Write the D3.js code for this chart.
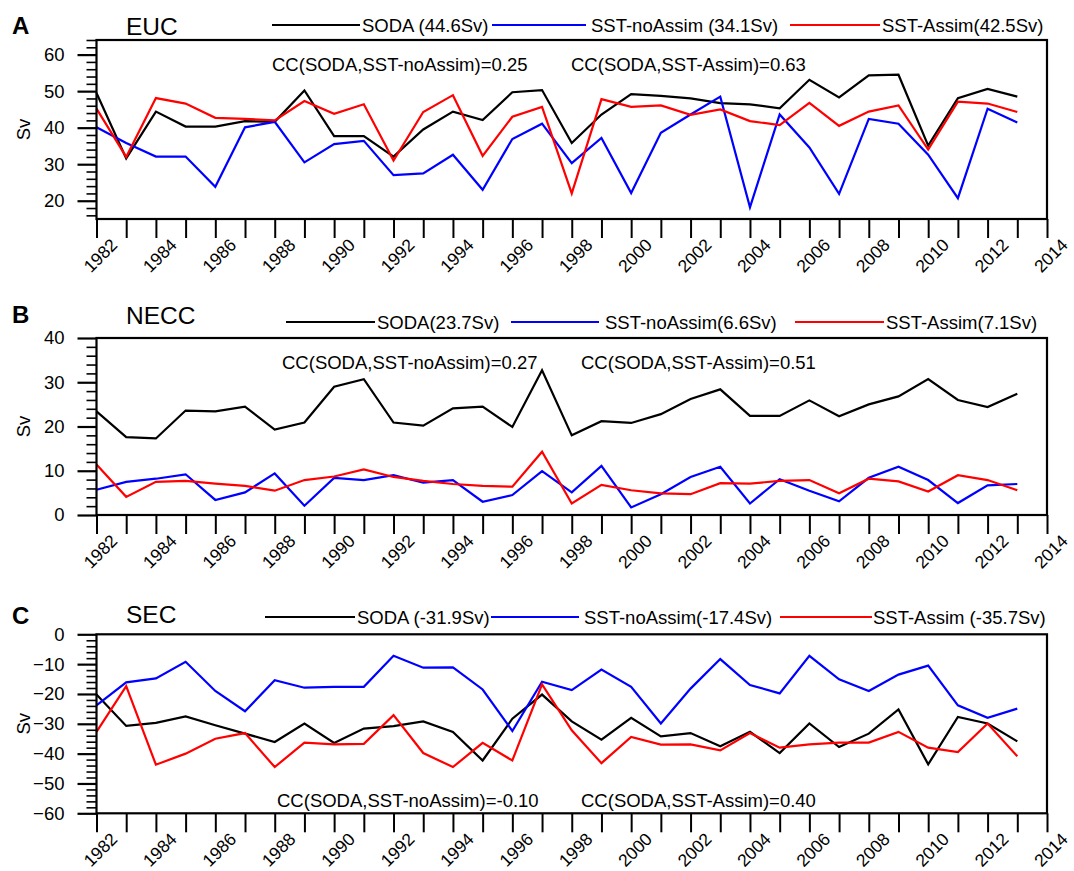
<!DOCTYPE html>
<html><head><meta charset="utf-8">
<script src="https://cdn.jsdelivr.net/npm/d3@7"></script>
<style>body{margin:0;background:#fff} text{font-family:"Liberation Sans",Arial,Helvetica,sans-serif;fill:#000}</style>
</head><body><svg id="c" width="1074" height="871"></svg>
<script>
const years = [1982,1983,1984,1985,1986,1987,1988,1989,1990,1991,1992,1993,1994,1995,1996,1997,
               1998,1999,2000,2001,2002,2003,2004,2005,2006,2007,2008,2009,2010,2011,2012,2013];
const xTickYears = [1982,1983,1984,1985,1986,1987,1988,1989,1990,1991,1992,1993,1994,1995,1996,1997,
                    1998,1999,2000,2001,2002,2003,2004,2005,2006,2007,2008,2009,2010,2011,2012,2013,2014];
const xLabelYears = [1982,1984,1986,1988,1990,1992,1994,1996,1998,2000,2002,2004,2006,2008,2010,2012,2014];

// EUC
const eucSODA = [49.5,31.6,44.4,40.3,40.3,41.8,41.6,50.2,37.7,37.7,32.1,39.5,44.4,42.1,49.7,50.3,
                 35.8,43.6,49.2,48.7,48.0,46.7,46.4,45.3,53.1,48.3,54.3,54.5,35.1,48.1,50.6,48.5];
const eucNoAssim = [40.1,35.8,32.1,32.1,23.8,40.1,41.6,30.5,35.5,36.4,27.0,27.5,32.6,23.0,36.9,41.1,
                    30.3,37.2,22.1,38.6,43.6,48.5,18.2,43.6,34.6,21.9,42.4,41.1,32.6,20.7,45.2,41.4];
const eucAssim = [45.2,32.0,48.1,46.6,42.7,42.4,42.0,47.3,43.8,46.4,31.0,44.3,48.9,32.3,43.0,45.7,
                  22.0,47.8,45.7,46.1,43.5,45.0,41.8,40.7,46.8,40.5,44.4,46.1,34.0,47.1,46.6,44.3];
// NECC
const neccSODA = [23.4,17.6,17.3,23.6,23.4,24.5,19.3,20.9,29.0,30.7,20.9,20.2,24.1,24.5,19.9,32.7,
                  18.0,21.2,20.8,22.8,26.2,28.4,22.4,22.4,25.9,22.3,25.0,26.8,30.7,26.0,24.4,27.4];
const neccNoAssim = [5.7,7.5,8.2,9.2,3.4,5.1,9.4,2.1,8.4,7.9,9.0,7.3,7.9,3.0,4.5,9.9,
                     5.1,11.1,1.7,4.7,8.6,10.9,2.6,8.1,5.5,3.1,8.4,10.9,7.9,2.7,6.7,7.0];
const neccAssim = [11.4,4.1,7.5,7.7,7.1,6.6,5.5,7.9,8.7,10.3,8.6,7.7,7.0,6.6,6.4,14.3,
                   2.6,6.8,5.6,4.9,4.7,7.2,7.1,7.7,7.9,4.9,8.2,7.6,5.3,9.0,7.9,5.6];
// SEC
const secSODA = [-20.2,-30.7,-29.7,-27.5,-30.5,-33.3,-36.1,-29.9,-36.4,-31.6,-30.8,-29.2,-32.7,-42.3,-28.3,-20.2,
                 -29.2,-35.3,-28.0,-34.2,-33.1,-37.5,-32.7,-39.8,-29.9,-37.8,-33.3,-25.2,-43.6,-27.7,-29.9,-35.9];
const secNoAssim = [-23.8,-16.1,-14.8,-9.2,-19.0,-25.8,-15.4,-17.9,-17.6,-17.6,-7.2,-11.2,-11.1,-18.5,-32.4,-15.9,
                    -18.7,-11.8,-17.6,-29.9,-18.2,-8.3,-17.0,-19.8,-7.2,-15.1,-19.0,-13.5,-10.5,-23.8,-28.0,-24.9];
const secAssim = [-32.7,-17.4,-43.7,-40.0,-35.0,-33.1,-44.5,-36.3,-36.9,-36.7,-27.1,-39.8,-44.5,-36.4,-42.3,-16.8,
                  -32.2,-43.2,-34.4,-37.0,-36.9,-38.9,-33.1,-38.0,-36.9,-36.3,-36.3,-32.7,-38.0,-39.5,-29.9,-40.9];

const panelLetters = ["A","B","C"];
const panelTitles = ["EUC","NECC","SEC"];
const legendLabels = [
  ["SODA (44.6Sv)","SST-noAssim (34.1Sv)","SST-Assim(42.5Sv)"],
  ["SODA(23.7Sv)","SST-noAssim(6.6Sv)","SST-Assim(7.1Sv)"],
  ["SODA (-31.9Sv)","SST-noAssim(-17.4Sv)","SST-Assim (-35.7Sv)"]
];
const ccLabels = [
  ["CC(SODA,SST-noAssim)=0.25","CC(SODA,SST-Assim)=0.63"],
  ["CC(SODA,SST-noAssim)=0.27","CC(SODA,SST-Assim)=0.51"],
  ["CC(SODA,SST-noAssim)=-0.10","CC(SODA,SST-Assim)=0.40"]
];
const yMajorTicks = [[20,30,40,50,60],[0,10,20,30,40],[-60,-50,-40,-30,-20,-10,0]];
const seriesColors = ["#000000","#0000ff","#ff0000"];

const seriesData = [
  [eucSODA, eucNoAssim, eucAssim],
  [neccSODA, neccNoAssim, neccAssim],
  [secSODA, secNoAssim, secAssim]
];

// layout
const X0 = 96.5, X1 = 1047;
const layout = [
  {top:40, bottom:219, domain:[15,64], minorStep:2,
   letterY:34, titleY:35, legY:25, leg:[[272,360,362],[492,586,591],[790,880,882]],
   cc:[[272,64],[571,64]]},
  {top:338, bottom:515, domain:[0,40], minorStep:2,
   letterY:323, titleY:324, legY:322, leg:[[286,375,377],[511,599,605],[795,884,886]],
   cc:[[282,362.5],[581,362.5]]},
  {top:634.3, bottom:813.3, domain:[-60,0], minorStep:2,
   letterY:624, titleY:623, legY:617, leg:[[265,355,357],[491,579,584],[780,872,873]],
   cc:[[277,800],[581,800]]}
];

const svg = d3.select("#c");
const x = d3.scaleLinear().domain([1982,2014]).range([X0,X1]);
const FS = 18.5;
const XFS = 17.5;

layout.forEach((L, p) => {
  const y = d3.scaleLinear().domain(L.domain).range([L.bottom, L.top]);
  const g = svg.append("g");

  // minor ticks
  const minors = d3.range(Math.ceil(L.domain[0]/L.minorStep)*L.minorStep, L.domain[1]+0.001, L.minorStep)
      .filter(v => !yMajorTicks[p].includes(v));
  const yMinor = d3.axisLeft(y).tickValues(minors).tickSize(10).tickFormat("");
  g.append("g").attr("transform",`translate(${X0},0)`).call(yMinor)
    .call(s=>s.select(".domain").remove())
    .selectAll("line").attr("stroke","#000").attr("stroke-width",1.6);
  const yMajor = d3.axisLeft(y).tickValues(yMajorTicks[p]).tickSize(19).tickPadding(13).tickFormat(d3.format("d"));
  g.append("g").attr("transform",`translate(${X0},0)`).call(yMajor)
    .call(s=>s.select(".domain").remove())
    .call(s=>s.selectAll("line").attr("stroke","#000").attr("stroke-width",2.2))
    .call(s=>s.selectAll("text").attr("font-size",FS).attr("font-family","Liberation Sans, Arial, sans-serif").attr("fill","#000"));

  // x axis
  const xAxis = d3.axisBottom(x).tickValues(xTickYears).tickSize(19).tickFormat("");
  g.append("g").attr("transform",`translate(0,${L.bottom})`).call(xAxis)
    .call(s=>s.select(".domain").remove())
    .selectAll("line").attr("stroke","#000").attr("stroke-width",2);
  g.append("g").selectAll("text").data(xLabelYears).join("text")
    .attr("transform", d => `translate(${x(d)+22},${L.bottom+27}) rotate(-45)`)
    .attr("text-anchor","end").attr("font-size",XFS).text(d => d);

  // axis title
  g.append("text").attr("transform",`translate(30,${(L.top+L.bottom)/2}) rotate(-90)`)
    .attr("text-anchor","middle").attr("font-size",FS).text("Sv");

  // lines
  const line = d3.line().x((d,i)=>x(years[i])).y(d=>y(d));
  seriesData[p].forEach((arr, k) => {
    g.append("path").datum(arr).attr("d", line).attr("fill","none")
      .attr("stroke", seriesColors[k]).attr("stroke-width",2.2).attr("stroke-linejoin","miter");
  });

  // frame
  g.append("rect").attr("x",X0).attr("y",L.top).attr("width",X1-X0).attr("height",L.bottom-L.top)
    .attr("fill","none").attr("stroke","#000").attr("stroke-width",2.2);

  // letter and title
  g.append("text").attr("x",12).attr("y",L.letterY).attr("font-size",24).attr("font-weight","bold").text(panelLetters[p]);
  g.append("text").attr("x",126).attr("y",L.titleY).attr("font-size",24.5).text(panelTitles[p]);

  // legend
  L.leg.forEach((pos, k) => {
    g.append("line").attr("x1",pos[0]).attr("x2",pos[1]).attr("y1",L.legY).attr("y2",L.legY)
      .attr("stroke",seriesColors[k]).attr("stroke-width",2);
    g.append("text").attr("x",pos[2]).attr("y",L.legY).attr("dominant-baseline","central")
      .attr("font-size",FS).text(legendLabels[p][k]);
  });

  // CC text
  L.cc.forEach((pos, k) => {
    g.append("text").attr("x",pos[0]).attr("y",pos[1]).attr("dominant-baseline","central")
      .attr("font-size",FS).text(ccLabels[p][k]);
  });
});
</script></body></html>
